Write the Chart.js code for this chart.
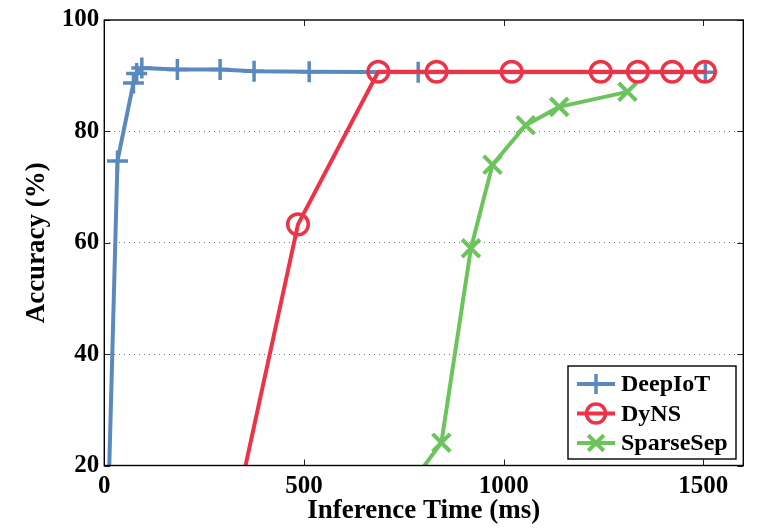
<!DOCTYPE html>
<html>
<head>
<meta charset="utf-8">
<script src="https://cdn.jsdelivr.net/npm/chart.js@4/dist/chart.umd.min.js"></script>
<style>
  html, body { margin: 0; padding: 0; background: #fff; }
  #wrap { width: 762px; height: 529px; }
</style>
</head>
<body>
<div id="wrap"><canvas id="chart" width="762" height="529"></canvas></div>
<script>
// values (first point of each series sits below the 20% floor)
const deepIoTTime = [5, 33, 73, 81, 94, 183, 290, 375, 513, 786, 1505];
const deepIoTAcc  = [0, 74.7, 88.7, 90.4, 91.4, 91.1, 91.1, 90.8, 90.7, 90.6, 90.6];

const dynsTime = [300, 485, 686, 832, 1020, 1243, 1336, 1422, 1504];
const dynsAcc  = [2.3, 63.3, 90.7, 90.7, 90.7, 90.7, 90.7, 90.7, 90.7];

const sparseTime = [740, 844, 918, 972, 1055, 1139, 1310];
const sparseAcc  = [14, 24.1, 59.0, 74.0, 81.1, 84.4, 87.1];

const xTicks = [0, 500, 1000, 1500];
const yTicks = [20, 40, 60, 80, 100];

const BLUE = '#5a8abd';
const RED = '#ec3347';
const GREEN = '#6cc45c';
const FONT = "'Liberation Serif', 'Times New Roman', serif";

function toPoints(xs, ys) {
    return xs.map((x, i) => ({ x: x, y: ys[i] }));
}

// box around the plot + inward tick marks on all four sides
const framePlugin = {
    id: 'frame',
    afterDraw(chart) {
        const { ctx, chartArea: a, scales } = chart;
        ctx.save();
        ctx.strokeStyle = '#222';
        ctx.lineWidth = 1;
        xTicks.forEach(v => {
            const px = Math.round(scales.x.getPixelForValue(v)) + 0.5;
            ctx.beginPath();
            ctx.moveTo(px, a.bottom); ctx.lineTo(px, a.bottom - 6);
            ctx.moveTo(px, a.top); ctx.lineTo(px, a.top + 6);
            ctx.stroke();
        });
        yTicks.forEach(v => {
            const py = Math.round(scales.y.getPixelForValue(v)) + 0.5;
            ctx.beginPath();
            ctx.moveTo(a.left, py); ctx.lineTo(a.left + 6, py);
            ctx.moveTo(a.right, py); ctx.lineTo(a.right - 6, py);
            ctx.stroke();
        });
        ctx.strokeStyle = '#000';
        ctx.lineWidth = 1.4;
        ctx.strokeRect(a.left, a.top, a.right - a.left, a.bottom - a.top);
        ctx.restore();
    }
};

// legend box in the lower right corner
const legendPlugin = {
    id: 'boxLegend',
    afterDraw(chart) {
        const { ctx } = chart;
        const bx = 568, by = 366, bw = 168, bh = 93;
        ctx.save();
        ctx.fillStyle = '#fff';
        ctx.fillRect(bx, by, bw, bh);
        ctx.strokeStyle = '#000';
        ctx.lineWidth = 1.4;
        ctx.strokeRect(bx, by, bw, bh);
        chart.data.datasets.forEach((ds, i) => {
            const cy = by + 18 + i * 29.5;
            ctx.strokeStyle = ds.borderColor;
            ctx.lineWidth = ds.borderWidth;
            ctx.beginPath();
            ctx.moveTo(577, cy);
            ctx.lineTo(615, cy);
            ctx.stroke();
            ctx.fillStyle = 'rgba(0,0,0,0)';
            ctx.lineWidth = ds.pointBorderWidth;
            Chart.helpers.drawPoint(ctx, {
                pointStyle: ds.pointStyle,
                radius: ds.legendRadius,
                rotation: 0,
                borderWidth: ds.pointBorderWidth
            }, 596, cy);
            ctx.fillStyle = '#000';
            ctx.font = 'bold 24px ' + FONT;
            ctx.textBaseline = 'middle';
            ctx.textAlign = 'left';
            ctx.fillText(ds.label, 621, cy + 1);
        });
        ctx.restore();
    }
};

const ctx = document.getElementById('chart').getContext('2d');
new Chart(ctx, {
    type: 'line',
    data: {
        datasets: [
            {
                label: 'DeepIoT',
                data: toPoints(deepIoTTime, deepIoTAcc),
                borderColor: BLUE,
                backgroundColor: BLUE,
                borderWidth: 4,
                pointStyle: 'cross',
                pointRadius: 10.5,
                legendRadius: 10,
                pointBorderWidth: 3.5,
                pointBorderColor: BLUE,
                order: 1,
                clip: 0
            },
            {
                label: 'DyNS',
                data: toPoints(dynsTime, dynsAcc),
                borderColor: RED,
                backgroundColor: 'rgba(0,0,0,0)',
                borderWidth: 4,
                pointStyle: 'circle',
                pointRadius: 10.3,
                legendRadius: 9.5,
                pointBorderWidth: 3.5,
                pointBorderColor: RED,
                pointBackgroundColor: 'rgba(0,0,0,0)',
                order: 0,
                clip: 0
            },
            {
                label: 'SparseSep',
                data: toPoints(sparseTime, sparseAcc),
                borderColor: GREEN,
                backgroundColor: GREEN,
                borderWidth: 4,
                pointStyle: 'crossRot',
                pointRadius: 12.5,
                legendRadius: 11,
                pointBorderWidth: 4,
                pointBorderColor: GREEN,
                order: 2,
                clip: 0
            }
        ]
    },
    options: {
        responsive: false,
        animation: false,
        devicePixelRatio: 1,
        elements: {
            line: { tension: 0, borderJoinStyle: 'round', borderCapStyle: 'round' },
            point: { hoverRadius: 10 }
        },
        layout: { padding: { top: 17.7, right: 18.7, bottom: 0, left: 0 } },
        plugins: {
            legend: { display: false },
            tooltip: { enabled: false }
        },
        scales: {
            x: {
                type: 'linear',
                min: 0,
                max: 1600,
                afterFit(scale) { scale.height = 63.5; },
                afterBuildTicks(scale) { scale.ticks = xTicks.map(v => ({ value: v })); },
                grid: { display: false, drawTicks: false },
                border: { display: false },
                ticks: {
                    padding: 6,
                    maxRotation: 0,
                    color: '#000',
                    callback: v => String(v),
                    font: { family: FONT, size: 25, weight: 'bold' }
                },
                title: {
                    display: true,
                    text: 'Inference Time (ms)',
                    color: '#000',
                    padding: { top: 0, bottom: 2 },
                    font: { family: FONT, size: 27, weight: 'bold' }
                }
            },
            y: {
                min: 20,
                max: 100,
                afterFit(scale) { scale.width = 104.3; },
                afterBuildTicks(scale) { scale.ticks = yTicks.map(v => ({ value: v })); },
                grid: {
                    drawTicks: false,
                    color: ctx => (ctx.tick && (ctx.tick.value === 20 || ctx.tick.value === 100)) ? 'rgba(0,0,0,0)' : '#777',
                    lineWidth: 1
                },
                border: { display: false, dash: [1, 4] },
                ticks: {
                    padding: 5,
                    color: '#000',
                    callback: v => String(v),
                    font: { family: FONT, size: 25, weight: 'bold' }
                },
                title: {
                    display: true,
                    text: 'Accuracy (%)',
                    color: '#000',
                    padding: { top: 21, bottom: 0 },
                    font: { family: FONT, size: 27, weight: 'bold' }
                }
            }
        }
    },
    plugins: [framePlugin, legendPlugin]
});
</script>
</body>
</html>
